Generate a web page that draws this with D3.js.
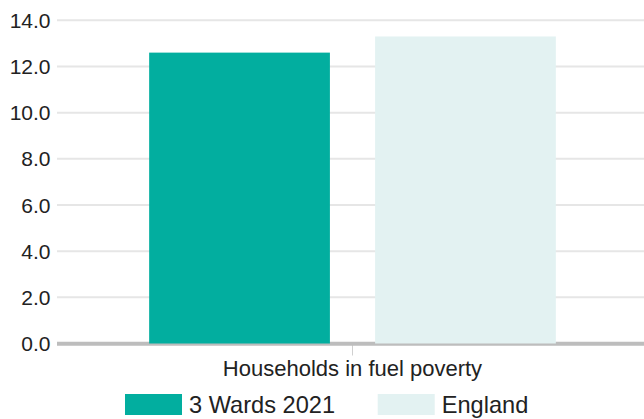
<!DOCTYPE html>
<html>
<head>
<meta charset="utf-8">
<script src="https://cdn.jsdelivr.net/npm/d3@7"></script>
<style>
  body { margin: 0; background: #fff; }
  svg { display: block; font-family: "Liberation Sans", Arial, sans-serif; }
</style>
</head>
<body>
<svg width="644" height="419"></svg>
<script>
// Data
const categories = ["Households in fuel poverty"];
const seriesNames = ["3 Wards 2021", "England"];
const seriesValues = [[12.6], [13.3]];
const yTicks = [0, 2, 4, 6, 8, 10, 12, 14];
const colors = ["#02ae9f", "#e3f2f2"];

const svg = d3.select("svg");
const plotLeft = 57, plotRight = 648, plotTop = 20.3, plotBottom = 343.5;

// Scales
const x0 = d3.scaleBand()
    .domain(categories)
    .range([plotLeft, plotRight])
    .paddingInner(0)
    .paddingOuter(0.2266);

const x1 = d3.scaleBand()
    .domain(seriesNames)
    .range([0, x0.bandwidth()])
    .paddingInner(0.2)
    .paddingOuter(0);

const y = d3.scaleLinear()
    .domain([0, 14])
    .range([plotBottom, plotTop]);

// Gridlines
svg.append("g")
    .selectAll("line")
    .data(yTicks.filter(d => d > 0))
    .join("line")
    .attr("x1", plotLeft)
    .attr("x2", 644)
    .attr("y1", d => y(d))
    .attr("y2", d => y(d))
    .attr("stroke", "#e6e6e6")
    .attr("stroke-width", 2);

// Y axis labels
svg.append("g")
    .selectAll("text")
    .data(yTicks)
    .join("text")
    .attr("x", 50.5)
    .attr("y", d => y(d))
    .attr("dy", "0.36em")
    .attr("text-anchor", "end")
    .attr("font-size", 21)
    .attr("fill", "#222")
    .text(d => d3.format(".1f")(d));

// Category tick + label
categories.forEach(c => {
    const cx = x0(c) + x0.bandwidth() / 2;
    svg.append("line")
        .attr("x1", cx).attr("x2", cx)
        .attr("y1", plotBottom).attr("y2", plotBottom + 12)
        .attr("stroke", "#d0d0d0")
        .attr("stroke-width", 1);
    svg.append("text")
        .attr("x", cx)
        .attr("y", 375.7)
        .attr("text-anchor", "middle")
        .attr("font-size", 22)
        .attr("fill", "#222")
        .text(c);
});

// Baseline
svg.append("line")
    .attr("x1", plotLeft).attr("x2", 644)
    .attr("y1", plotBottom + 0.2).attr("y2", plotBottom + 0.2)
    .attr("stroke", "#bdbdbd")
    .attr("stroke-width", 4);

// Bars
seriesNames.forEach((s, i) => {
    svg.append("g")
        .selectAll("rect")
        .data(seriesValues[i])
        .join("rect")
        .attr("x", (d, j) => x0(categories[j]) + x1(s))
        .attr("y", d => y(d))
        .attr("width", x1.bandwidth())
        .attr("height", d => y(0) - y(d))
        .attr("fill", colors[i]);
});

// Legend
const legend = svg.append("g");
let lx = 125;
seriesNames.forEach((s, i) => {
    legend.append("rect")
        .attr("x", lx).attr("y", 394)
        .attr("width", 57).attr("height", 21)
        .attr("fill", colors[i]);
    const t = legend.append("text")
        .attr("x", lx + 64)
        .attr("y", 413.3)
        .attr("font-size", 23.6)
        .attr("fill", "#222")
        .text(s);
    lx += 64 + t.node().getComputedTextLength() + 42.7;
});
</script>
</body>
</html>
